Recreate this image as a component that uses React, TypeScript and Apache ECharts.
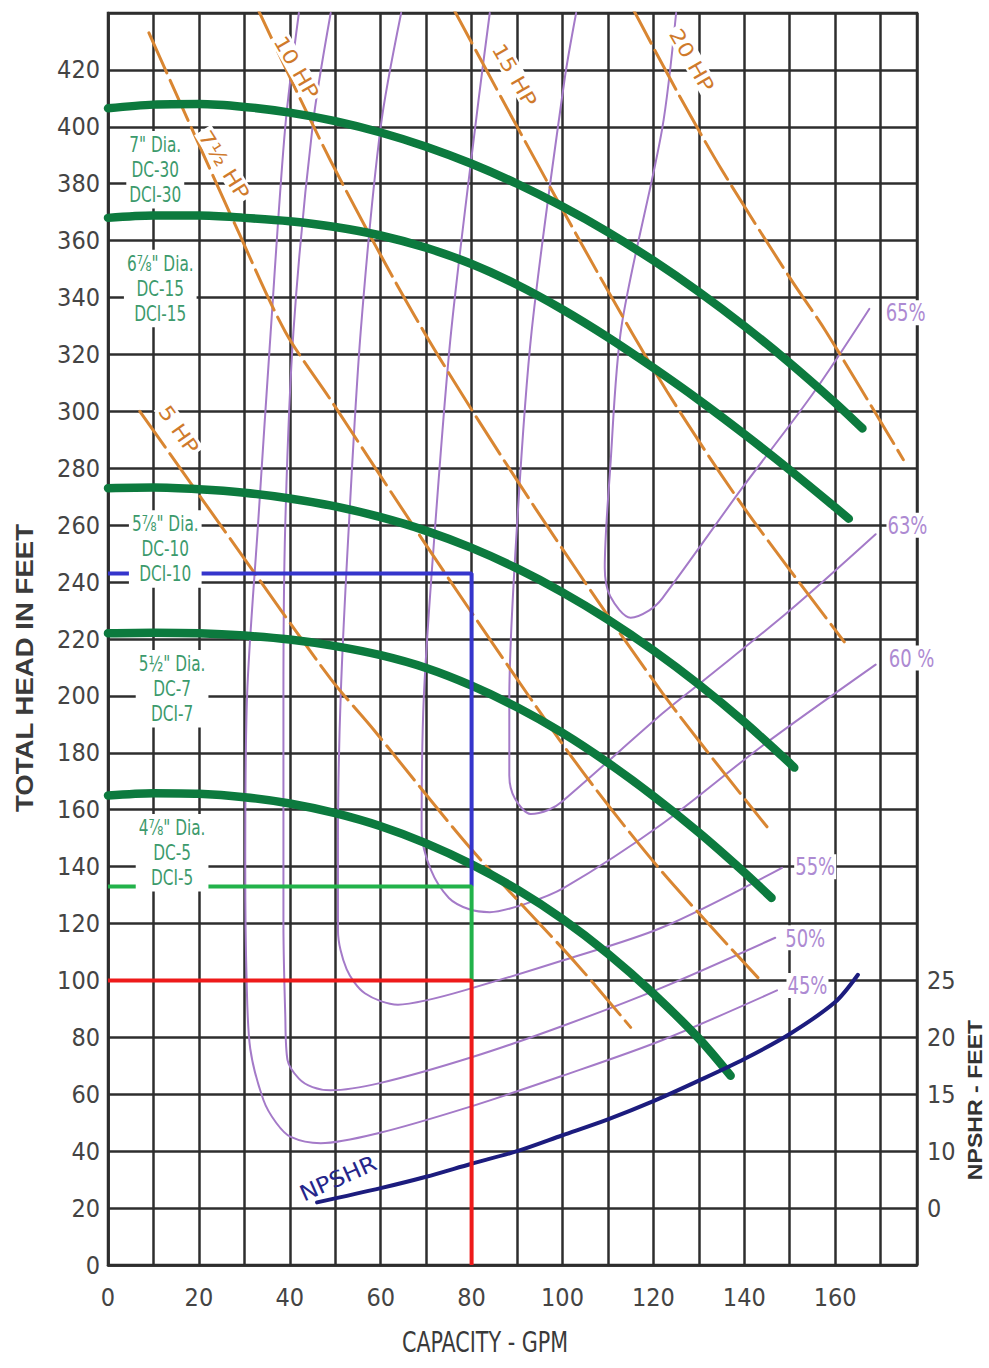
import React, { useEffect, useRef } from "react";
import * as echarts from "echarts";

// ---------------- DATA (GPM, feet) ----------------
const X_MAX = 178;
const Y_MAX = 440;
const NPSHR_MAX = 110;
const X_LABELED = [0, 20, 40, 60, 80, 100, 120, 140, 160];
const Y_LABELED = [0, 20, 40, 60, 80, 100, 120, 140, 160, 180, 200, 220, 240, 260, 280, 300, 320, 340, 360, 380, 400, 420];
const NPSHR_TICK_TEXT: Record<number, string> = { 5: "0", 10: "10", 15: "15", 20: "20", 25: "25" };

// Impeller head curves
const HEAD_7 = [[0, 406.5], [10, 407.8], [20, 408], [30, 407], [40, 405], [50, 402], [60, 398], [70, 393], [80, 387], [90, 380], [100, 372], [110, 363], [120, 353], [130, 342], [140, 330], [150, 317], [160, 303], [166, 294]];
const HEAD_6_78 = [[0, 368], [10, 368.8], [20, 368.8], [30, 368], [40, 366.8], [50, 364.8], [60, 361.8], [70, 357.5], [80, 351.8], [90, 344.5], [100, 335.8], [110, 326], [120, 315.3], [130, 304], [140, 292], [150, 279.4], [160, 266.3], [163, 262.3]];
const HEAD_5_78 = [[0, 273], [10, 273.2], [20, 272.6], [30, 271.4], [40, 269.4], [50, 266.6], [60, 262.8], [70, 258], [80, 252], [90, 244.8], [100, 236.4], [110, 226.8], [120, 216], [130, 204], [140, 190.8], [150, 176.4], [151, 174.8]];
const HEAD_5_12 = [[0, 222], [10, 222.2], [20, 222], [30, 221.2], [40, 219.8], [50, 217.5], [60, 214.3], [70, 209.8], [80, 203.6], [90, 196], [100, 187], [110, 176.5], [120, 164.8], [130, 152], [140, 138], [146, 129]];
const HEAD_4_78 = [[0, 165], [10, 165.8], [20, 165.6], [30, 164.4], [40, 162.2], [50, 158.8], [60, 154.2], [70, 148.2], [80, 140.8], [90, 132], [100, 121.6], [110, 109.4], [120, 95.4], [130, 79.6], [137, 66.5]];

// Horsepower lines
const HP_5 = [[7, 300], [31, 246], [49, 206], [58.5, 188], [80, 146], [103, 106], [115, 83.5]];
const HP_7_5 = [[9, 433], [29, 362], [39, 328], [49, 304], [70, 253], [93, 199], [106, 170], [122, 138], [143, 101]];
const HP_10 = [[32.5, 443], [49, 388], [69.5, 328], [94, 266], [122, 201], [145, 154]];
const HP_15 = [[75.5, 443], [89, 403], [108, 348], [123, 307], [140, 266], [162, 219]];
const HP_20 = [[115, 443], [125, 413], [135, 385], [150, 347], [158, 328], [175, 283]];

// Efficiency contours
const EFF_45 = [[42, 440], [39, 400], [35.8, 328], [33, 260], [30.6, 200], [30.2, 140], [30.5, 100], [31.3, 76], [34.2, 58], [37, 50], [40.2, 45], [46.8, 42.8], [59.4, 46.3], [79.2, 55.4], [100, 66.5], [121.9, 79], [147.2, 96.5]];
const EFF_50 = [[49, 440], [45, 400], [40.8, 328], [39, 260], [38.6, 200], [38.6, 120], [39, 88], [39.5, 72], [42, 65.5], [45, 62.5], [49, 61.4], [60, 64], [80, 73], [100, 84], [121.9, 97.5], [146.8, 115]];
const EFF_55 = [[64.5, 440], [60, 400], [55.6, 328], [53, 260], [51.2, 200], [50.6, 150], [50.6, 117.5], [52.5, 104], [56.5, 95.5], [63.8, 91.5], [70, 93], [78.4, 96.5], [100, 107], [121.9, 118.6], [148.3, 139.6]];
const EFF_60 = [[84, 440], [81.5, 409], [75.5, 328], [72, 260], [69.5, 200], [69, 152.6], [71, 139], [75, 129], [79.5, 125], [84, 124], [92, 127], [100.4, 132.6], [121.9, 155], [144, 182.5], [168.9, 211]];
const EFF_63 = [[103, 440], [100.4, 416], [93.2, 328], [90, 260], [88.3, 199], [88.3, 172], [89.5, 164], [93, 158.5], [97, 160], [100, 163], [121.9, 193.7], [130.7, 205], [150, 230], [168.9, 256.8]];
const EFF_65 = [[125, 440], [121.9, 399], [113, 330], [110.5, 280], [109.3, 245], [110.5, 235], [115, 227.5], [119, 230], [122, 234.4], [139.5, 273], [155, 306], [167.5, 336]];

// NPSHR curve (NPSHR feet, right axis)
const NPSHR = [[46, 5.5], [60, 6.75], [70, 7.75], [80, 8.9], [90, 10], [100, 11.4], [110, 12.8], [120, 14.4], [130, 16.2], [140, 18.1], [150, 20.3], [160, 23.1], [165, 25.5]];

// Operating point construction lines
const OP_BLUE = [[0, 243], [80, 243], [80, 133]];
const OP_GREEN = [[0, 133], [80, 133], [80, 100]];
const OP_RED = [[0, 100], [80, 100], [80, 0]];

// Texts
const PUMP_TEXT = ['7" Dia.\nDC-30\nDCI-30', '6⅞" Dia.\nDC-15\nDCI-15', '5⅞" Dia.\nDC-10\nDCI-10', '5½" Dia.\nDC-7\nDCI-7', '4⅞" Dia.\nDC-5\nDCI-5'];
const HP_TEXT = ["5 HP", "7½ HP", "10 HP", "15 HP", "20 HP"];
const EFF_TEXT = ["65%", "63%", "60 %", "55%", "50%", "45%"];

// ---------------- LAYOUT (annotation anchors in data coords) ----------------
const PUMP_AT = [[10.4, 384.9], [11.5, 343.2], [12.6, 251.6], [14.1, 202.5], [14.1, 144.9]];
const HP_AT = [[15.6, 293.7, -55], [25.6, 386.7, -58], [41.5, 421, -60], [89.5, 418.2, -60], [128.5, 423.5, -60]];
const EFF_AT = [[175.5, 334.7], [175.9, 260], [176.8, 213.3], [155.6, 140], [153.4, 115], [153.9, 98.2]];
const NPSHR_LABEL_AT = [50.6, 30.5];

const NARROW = "'Liberation Sans Narrow', 'Arial Narrow', 'DejaVu Sans Condensed', 'Liberation Sans', sans-serif";
const SANS = "'Liberation Sans', Arial, sans-serif";
const GRID_COLOR = "#2e2e2e";
const GREEN = "#0c7a3e";
const PURPLE = "#a47ac8";
const ORANGE = "#d98632";

function line(name: string, data: number[][], color: string, width: number, z: number, extra: any = {}) {
  return {
    type: "line",
    name,
    data,
    symbol: "none",
    showSymbol: false,
    silent: true,
    z,
    lineStyle: { color, width, cap: "round", ...(extra.lineStyle || {}) },
    smooth: extra.smooth ?? 0.3,
    yAxisIndex: extra.yAxisIndex ?? 0,
  };
}

function buildOption() {
  const axisLabel = { fontSize: 25, fontFamily: NARROW, color: "#444" };
  return {
    animation: false,
    backgroundColor: "#ffffff",
    grid: { left: 108, right: 72, top: 13, bottom: 103, show: true, borderColor: GRID_COLOR, borderWidth: 2.5 },
    xAxis: {
      type: "value", min: 0, max: X_MAX, interval: 10,
      axisLine: { show: true, lineStyle: { color: GRID_COLOR, width: 2.5 } },
      axisTick: { show: false },
      splitLine: { show: true, lineStyle: { color: GRID_COLOR, width: 2.5 } },
      axisLabel: { ...axisLabel, margin: 20, formatter: (v: number) => (X_LABELED.includes(v) ? String(v) : "") },
    },
    yAxis: [
      {
        type: "value", min: 0, max: Y_MAX, interval: 20,
        axisLine: { show: true, lineStyle: { color: GRID_COLOR, width: 2.5 } },
        axisTick: { show: false },
        splitLine: { show: true, lineStyle: { color: GRID_COLOR, width: 2.5 } },
        axisLabel: { ...axisLabel, margin: 8, formatter: (v: number) => (Y_LABELED.includes(v) ? String(v) : "") },
      },
      {
        type: "value", min: 0, max: NPSHR_MAX, interval: 5, position: "right",
        axisLine: { show: false }, axisTick: { show: false }, splitLine: { show: false },
        axisLabel: { ...axisLabel, margin: 10, formatter: (v: number) => NPSHR_TICK_TEXT[v] ?? "" },
      },
    ],
    series: [
      line("45%", EFF_45, PURPLE, 2, 2),
      line("50%", EFF_50, PURPLE, 2, 2),
      line("55%", EFF_55, PURPLE, 2, 2),
      line("60%", EFF_60, PURPLE, 2, 2),
      line("63%", EFF_63, PURPLE, 2, 2),
      line("65%", EFF_65, PURPLE, 2, 2),
      line("5 HP", HP_5, ORANGE, 3, 3, { lineStyle: { type: [44, 8] } }),
      line("7.5 HP", HP_7_5, ORANGE, 3, 3, { lineStyle: { type: [44, 8] } }),
      line("10 HP", HP_10, ORANGE, 3, 3, { lineStyle: { type: [44, 8] } }),
      line("15 HP", HP_15, ORANGE, 3, 3, { lineStyle: { type: [44, 8] } }),
      line("20 HP", HP_20, ORANGE, 3, 3, { lineStyle: { type: [44, 8] } }),
      line('7"', HEAD_7, GREEN, 8.5, 4),
      line('6 7/8"', HEAD_6_78, GREEN, 8.5, 4),
      line('5 7/8"', HEAD_5_78, GREEN, 8.5, 4),
      line('5 1/2"', HEAD_5_12, GREEN, 8.5, 4),
      line('4 7/8"', HEAD_4_78, GREEN, 8.5, 4),
      line("NPSHR", NPSHR, "#1c1c7e", 4, 4, { yAxisIndex: 1 }),
      line("op blue", OP_BLUE, "#3535cc", 4, 5, { smooth: false, lineStyle: { cap: "butt" } }),
      line("op green", OP_GREEN, "#22b24a", 4, 5, { smooth: false, lineStyle: { cap: "butt" } }),
      line("op red", OP_RED, "#ee1a1a", 4, 5, { smooth: false, lineStyle: { cap: "butt" } }),
    ],
  };
}

function txt(x: number, y: number, text: string, o: any) {
  return {
    type: "text",
    x, y,
    z: 100,
    rotation: o.rotation || 0,
    scaleX: o.scaleX || 1,
    scaleY: o.scaleY || 1,
    silent: true,
    style: {
      text,
      fill: o.fill,
      font: o.font,
      align: o.align || "center",
      verticalAlign: o.verticalAlign || "middle",
      textAlign: o.align || "center",
      textVerticalAlign: o.verticalAlign || "middle",
      lineHeight: o.lineHeight,
      backgroundColor: o.bg,
      padding: o.padding,
    },
  };
}

function buildGraphics(chart: any) {
  const px = (x: number, y: number) => chart.convertToPixel({ gridIndex: 0 }, [x, y]) as number[];
  const g: any[] = [];
  PUMP_TEXT.forEach((t, i) => {
    const [x, y] = px(PUMP_AT[i][0], PUMP_AT[i][1]);
    g.push(txt(x, y, t, { fill: "#3c9a6c", font: `17px ${NARROW}`, lineHeight: 20, scaleY: 1.25, bg: "#ffffff", padding: [1, 3] }));
  });
  HP_TEXT.forEach((t, i) => {
    const [x, y] = px(HP_AT[i][0], HP_AT[i][1]);
    g.push(txt(x, y, t, { fill: "#cf7a2c", font: `20px ${NARROW}`, rotation: (HP_AT[i][2] * Math.PI) / 180, scaleX: 1.3, bg: "#ffffff", padding: [0, 2] }));
  });
  EFF_TEXT.forEach((t, i) => {
    const [x, y] = px(EFF_AT[i][0], EFF_AT[i][1]);
    g.push(txt(x, y, t, { fill: "#ad8ad2", font: `20px ${NARROW}`, scaleY: 1.25, bg: "#ffffff", padding: [0, 1] }));
  });
  {
    const [x, y] = px(NPSHR_LABEL_AT[0], NPSHR_LABEL_AT[1]);
    g.push(txt(x, y, "NPSHR", { fill: "#26268a", font: `22px ${NARROW}`, rotation: (24 * Math.PI) / 180, scaleX: 1.2 }));
  }
  g.push(txt(25, 668, "TOTAL HEAD IN FEET", { fill: "#3a3a3a", font: `bold 23px ${SANS}`, rotation: Math.PI / 2, scaleX: 1.2 }));
  g.push(txt(485, 1342, "CAPACITY - GPM", { fill: "#3a3a3a", font: `23px ${NARROW}`, scaleY: 1.25 }));
  g.push(txt(975, 1100, "NPSHR - FEET", { fill: "#333333", font: `bold 21px ${SANS}`, rotation: Math.PI / 2, scaleX: 1.1 }));
  return g;
}

export default function App() {
  const ref = useRef<HTMLDivElement>(null);
  useEffect(() => {
    document.body.style.margin = "0";
    const chart = echarts.init(ref.current!, null, { renderer: "svg" });
    chart.setOption(buildOption() as any);
    chart.setOption({ graphic: buildGraphics(chart) } as any);
    return () => chart.dispose();
  }, []);
  return <div ref={ref} style={{ width: 989, height: 1368 }} />;
}
